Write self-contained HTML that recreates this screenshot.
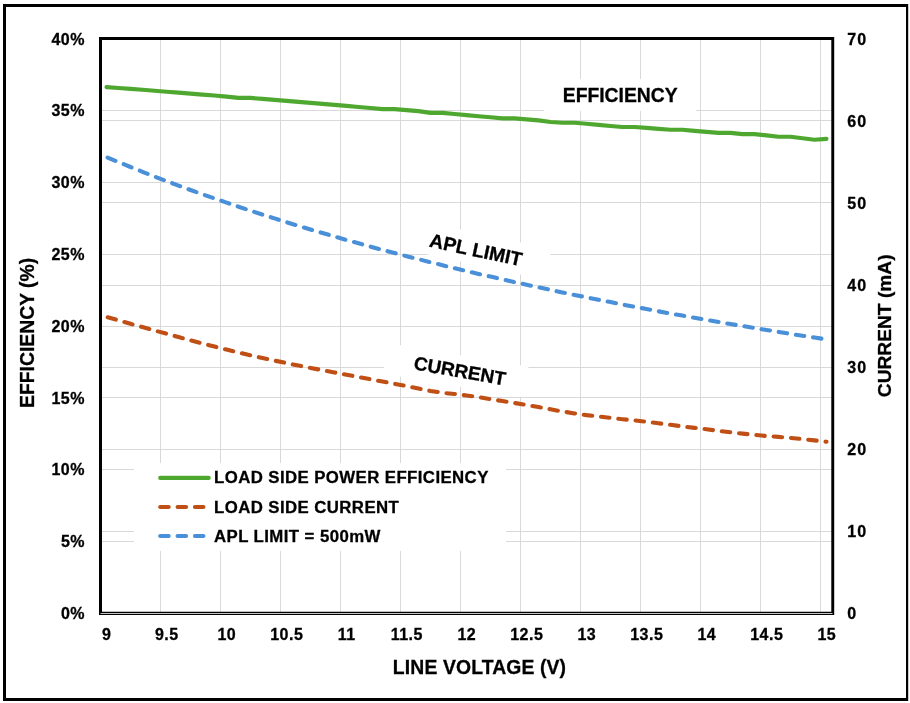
<!DOCTYPE html>
<html><head><meta charset="utf-8"><title>Efficiency vs Line Voltage</title>
<style>
html,body{margin:0;padding:0;background:#fff;}
body{width:910px;height:703px;overflow:hidden;position:relative;font-family:"Liberation Sans",sans-serif;}
</style></head><body>
<svg width="910" height="703" viewBox="0 0 910 703" style="display:block;position:absolute;left:0;top:0;will-change:transform">
<path d="M3 4H908.2V701H3Z M6 7V698H906V7Z" fill="#000" fill-rule="evenodd"/>
<g fill="#d9d9d9" shape-rendering="crispEdges">
<rect x="160" y="40" width="1" height="572"/>
<rect x="220" y="40" width="1" height="572"/>
<rect x="280" y="40" width="1" height="572"/>
<rect x="340" y="40" width="1" height="572"/>
<rect x="400" y="40" width="1" height="572"/>
<rect x="460" y="40" width="1" height="572"/>
<rect x="520" y="40" width="1" height="572"/>
<rect x="580" y="40" width="1" height="572"/>
<rect x="640" y="40" width="1" height="572"/>
<rect x="700" y="40" width="1" height="572"/>
<rect x="760" y="40" width="1" height="572"/>
<rect x="820" y="40" width="1" height="572"/>
<rect x="102" y="110" width="730" height="1"/>
<rect x="102" y="120" width="730" height="1"/>
<rect x="102" y="182" width="730" height="1"/>
<rect x="102" y="202" width="730" height="1"/>
<rect x="102" y="254" width="730" height="1"/>
<rect x="102" y="285" width="730" height="1"/>
<rect x="102" y="326" width="730" height="1"/>
<rect x="102" y="367" width="730" height="1"/>
<rect x="102" y="397" width="730" height="1"/>
<rect x="102" y="449" width="730" height="1"/>
<rect x="102" y="469" width="730" height="1"/>
<rect x="102" y="531" width="730" height="1"/>
<rect x="102" y="541" width="730" height="1"/>
</g>
<rect x="544" y="79" width="152" height="32" fill="#fff"/>
<rect x="-71.3" y="-15.6" width="142.6" height="31.2" fill="#fff" transform="translate(478.4 249.4) rotate(12.2)"/>
<rect x="-71.3" y="-15.5" width="142.6" height="31" fill="#fff" transform="translate(455.6 370.2) rotate(9.5)"/>
<rect x="134" y="463" width="372" height="88" fill="#fff"/>
<polyline points="106.5,157.1 118.5,162.1 130.5,167.0 142.5,171.8 154.5,176.5 166.5,181.1 178.5,185.6 190.5,190.0 202.5,194.3 214.5,198.5 226.5,202.6 238.5,206.7 250.5,210.7 262.5,214.6 274.5,218.4 286.5,222.2 298.5,225.9 310.5,229.5 322.5,233.0 334.5,236.5 346.5,240.0 358.5,243.3 370.5,246.6 382.5,249.9 394.5,253.0 406.5,256.2 418.5,259.2 430.5,262.3 442.5,265.2 454.5,268.2 466.5,271.0 478.5,273.9 490.5,276.6 502.5,279.4 514.5,282.1 526.5,284.7 538.5,287.3 550.5,289.9 562.5,292.4 574.5,294.9 586.5,297.3 598.5,299.8 610.5,302.1 622.5,304.5 634.5,306.8 646.5,309.0 658.5,311.3 670.5,313.5 682.5,315.6 694.5,317.8 706.5,319.9 718.5,322.0 730.5,324.0 742.5,326.0 754.5,328.0 766.5,330.0 778.5,331.9 790.5,333.9 802.5,335.7 814.5,337.6 826.5,339.4" fill="none" stroke="#4a90d9" stroke-width="4.1" stroke-linecap="round" stroke-linejoin="round" stroke-dasharray="8.5 8.875" stroke-dashoffset="-1.2"/>
<polyline points="106.5,316.9 118.5,320.3 130.5,323.8 142.5,327.1 154.5,330.5 166.5,333.7 178.5,337.0 190.5,340.3 202.5,343.5 214.5,346.6 226.5,349.6 238.5,352.5 250.5,355.3 262.5,358.0 274.5,360.6 286.5,363.1 298.5,365.6 310.5,367.9 322.5,370.2 334.5,372.5 346.5,374.7 358.5,377.0 370.5,379.3 382.5,381.5 394.5,383.8 406.5,386.1 418.5,388.6 430.5,390.9 442.5,392.8 454.5,394.0 466.5,395.5 478.5,397.2 490.5,399.1 502.5,401.1 514.5,403.0 526.5,405.0 538.5,407.1 550.5,409.3 562.5,411.5 574.5,413.4 586.5,415.1 598.5,416.5 610.5,417.9 622.5,419.2 634.5,420.4 646.5,421.8 658.5,423.3 670.5,424.8 682.5,426.4 694.5,427.9 706.5,429.3 718.5,430.8 730.5,432.3 742.5,433.6 754.5,434.9 766.5,436.0 778.5,436.9 790.5,437.9 802.5,439.1 814.5,440.4 826.5,441.8" fill="none" stroke="#c04f15" stroke-width="4.1" stroke-linecap="round" stroke-linejoin="round" stroke-dasharray="8.5 8.875" stroke-dashoffset="-1.2"/>
<polyline points="106.5,87.1 118.5,88.0 130.5,88.9 142.5,89.8 154.5,90.7 166.5,91.7 178.5,92.6 190.5,93.6 202.5,94.6 214.5,95.5 226.5,96.6 238.5,97.9 250.5,97.9 262.5,98.9 274.5,99.9 286.5,100.9 298.5,101.9 310.5,102.9 322.5,103.9 334.5,104.9 346.5,105.9 358.5,107.0 370.5,108.0 382.5,109.1 394.5,109.1 406.5,110.1 418.5,111.1 430.5,112.9 442.5,112.9 454.5,114.0 466.5,115.1 478.5,116.2 490.5,117.3 502.5,118.4 514.5,118.4 526.5,119.4 538.5,120.4 550.5,122.0 562.5,122.8 574.5,122.8 586.5,123.8 598.5,124.9 610.5,126.0 622.5,127.0 634.5,127.0 646.5,127.9 658.5,128.9 670.5,129.8 682.5,129.8 694.5,130.9 706.5,131.9 718.5,132.9 730.5,132.9 742.5,134.1 754.5,134.1 766.5,135.4 778.5,136.8 790.5,136.8 802.5,138.2 814.5,139.8 826.5,138.9" fill="none" stroke="#4ea72e" stroke-width="4.1" stroke-linecap="round" stroke-linejoin="round"/>
<path d="M99 37H834.2V615H99Z M102 40V611.8H831.3V40Z" fill="#000" fill-rule="evenodd"/>
<rect x="100.5" y="613" width="732" height="0.9" fill="#d9d9d9"/>
<line x1="160.2" y1="477.9" x2="208.7" y2="477.9" stroke="#4ea72e" stroke-width="4.1" stroke-linecap="round"/>
<line x1="160.2" y1="507" x2="208.7" y2="507" stroke="#c04f15" stroke-width="4.1" stroke-linecap="round" stroke-dasharray="8.5 8.875"/>
<line x1="160.2" y1="536" x2="208.7" y2="536" stroke="#4a90d9" stroke-width="4.1" stroke-linecap="round" stroke-dasharray="8.5 8.875"/>
<g font-family="'Liberation Sans', sans-serif" font-weight="bold" fill="#000">
<g font-size="16px" stroke="#000" stroke-width="0.3">
<text x="85" y="619" text-anchor="end" letter-spacing="0.5">0%</text>
<text x="85" y="547" text-anchor="end" letter-spacing="0.5">5%</text>
<text x="85" y="475" text-anchor="end" letter-spacing="0.5">10%</text>
<text x="85" y="404" text-anchor="end" letter-spacing="0.5">15%</text>
<text x="85" y="332" text-anchor="end" letter-spacing="0.5">20%</text>
<text x="85" y="260" text-anchor="end" letter-spacing="0.5">25%</text>
<text x="85" y="188" text-anchor="end" letter-spacing="0.5">30%</text>
<text x="85" y="116" text-anchor="end" letter-spacing="0.5">35%</text>
<text x="85" y="45" text-anchor="end" letter-spacing="0.5">40%</text>
<text x="847.3" y="619" letter-spacing="1">0</text>
<text x="847.3" y="537" letter-spacing="1">10</text>
<text x="847.3" y="455" letter-spacing="1">20</text>
<text x="847.3" y="373" letter-spacing="1">30</text>
<text x="847.3" y="291" letter-spacing="1">40</text>
<text x="847.3" y="209" letter-spacing="1">50</text>
<text x="847.3" y="127" letter-spacing="1">60</text>
<text x="847.3" y="45" letter-spacing="1">70</text>
<text x="106.8" y="640" text-anchor="middle" letter-spacing="0.5">9</text>
<text x="166.8" y="640" text-anchor="middle" letter-spacing="0.5">9.5</text>
<text x="226.8" y="640" text-anchor="middle" letter-spacing="0.5">10</text>
<text x="286.8" y="640" text-anchor="middle" letter-spacing="0.5">10.5</text>
<text x="346.8" y="640" text-anchor="middle" letter-spacing="0.5">11</text>
<text x="406.8" y="640" text-anchor="middle" letter-spacing="0.5">11.5</text>
<text x="466.8" y="640" text-anchor="middle" letter-spacing="0.5">12</text>
<text x="526.8" y="640" text-anchor="middle" letter-spacing="0.5">12.5</text>
<text x="586.8" y="640" text-anchor="middle" letter-spacing="0.5">13</text>
<text x="646.8" y="640" text-anchor="middle" letter-spacing="0.5">13.5</text>
<text x="706.8" y="640" text-anchor="middle" letter-spacing="0.5">14</text>
<text x="766.8" y="640" text-anchor="middle" letter-spacing="0.5">14.5</text>
<text x="826.8" y="640" text-anchor="middle" letter-spacing="0.5">15</text>
</g>
<g font-size="16.8px" letter-spacing="0.42" stroke="#000" stroke-width="0.3">
<text x="214" y="483">LOAD SIDE POWER EFFICIENCY</text>
<text x="214" y="513">LOAD SIDE CURRENT</text>
<text x="214" y="542">APL LIMIT = 500mW</text>
</g>
<g font-size="19.33px" stroke="#000" stroke-width="0.3">
<text x="620.2" y="101.8" text-anchor="middle">EFFICIENCY</text>
<text x="0" y="0" transform="translate(428.6 246.6) rotate(12)">APL LIMIT</text>
<text x="0" y="0" font-size="19.05px" transform="translate(412.9 369.3) rotate(10)">CURRENT</text>
<text x="479.5" y="674" text-anchor="middle" letter-spacing="0.14">LINE VOLTAGE (V)</text>
<text x="0" y="0" font-size="19.33px" text-anchor="middle" transform="translate(34.1 332.9) rotate(-90)">EFFICIENCY (%)</text>
<text x="0" y="0" font-size="19.2px" text-anchor="middle" transform="translate(891.2 325.8) rotate(-90)">CURRENT (mA)</text>
</g>
</g>
</svg>
</body></html>
